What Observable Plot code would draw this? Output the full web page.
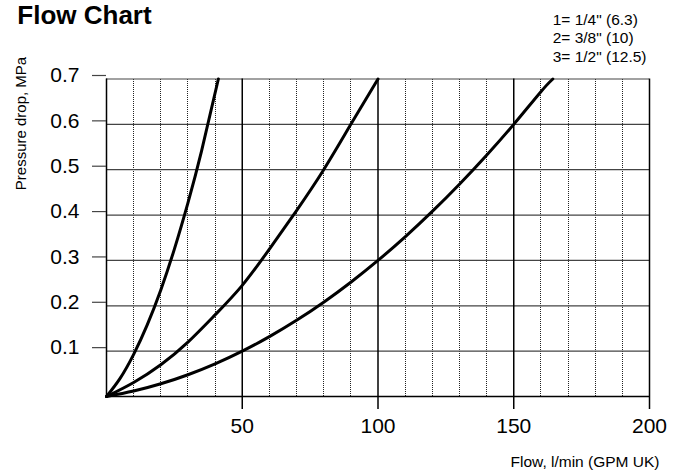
<!DOCTYPE html>
<html>
<head>
<meta charset="utf-8">
<script src="https://cdn.jsdelivr.net/npm/d3@7"></script>
<script src="https://cdn.jsdelivr.net/npm/@observablehq/plot@0.6"></script>
<style>
  html, body { margin: 0; padding: 0; background: #fff; }
  #chart svg { display: block; }
</style>
</head>
<body>
<div id="chart"></div>
<script>
// ---- Data ----
const titleText = "Flow Chart";
const xLabel = "Flow, l/min (GPM UK)";
const yLabel = "Pressure drop, MPa";
const legendLines = ["1= 1/4\" (6.3)", "2= 3/8\" (10)", "3= 1/2\" (12.5)"];

// Curve 1 : 1/4" (6.3)
const flow1 = [0, 5, 10, 15, 20, 25, 30, 35, 41.2];
const pres1 = [0, 0.04, 0.093, 0.158, 0.235, 0.325, 0.427, 0.541, 0.7];
// Curve 2 : 3/8" (10)
const flow2 = [0, 10, 20, 30, 40, 50, 60, 70, 80, 90, 100];
const pres2 = [0, 0.031, 0.07, 0.12, 0.18, 0.245, 0.325, 0.41, 0.5, 0.6, 0.7];
// Curve 3 : 1/2" (12.5)
const flow3 = [0, 10, 20, 30, 40, 50, 60, 70, 80, 90, 100, 110, 120, 130, 140, 150, 160, 164.4];
const pres3 = [0, 0.012, 0.028, 0.048, 0.072, 0.1, 0.132, 0.168, 0.208, 0.252, 0.3, 0.352, 0.408, 0.468, 0.532, 0.6, 0.672, 0.7];

const xTickLabels = [50, 100, 150, 200];
const xMajor = [0, 50, 100, 150, 200];
const xMinor = [10, 20, 30, 40, 60, 70, 80, 90, 110, 120, 130, 140, 160, 170, 180, 190];
const yTicks = [0.1, 0.2, 0.3, 0.4, 0.5, 0.6, 0.7];

// ---- Build table for Plot ----
const curves = [
  ...flow1.map((f, i) => ({flow: f, p: pres1[i], s: "1"})),
  ...flow2.map((f, i) => ({flow: f, p: pres2[i], s: "2"})),
  ...flow3.map((f, i) => ({flow: f, p: pres3[i], s: "3"}))
];

const FONT = "'Liberation Sans', Arial, Helvetica, sans-serif";

const chart = Plot.plot({
  width: 684,
  height: 471,
  marginLeft: 106,
  marginRight: 35,
  marginTop: 78.5,
  marginBottom: 75,
  x: {domain: [0, 200]},
  y: {domain: [0, 0.7]},
  style: {fontFamily: FONT, background: "#fff", color: "#000", overflow: "visible"},
  marks: [
    Plot.gridX(xMinor, {stroke: "#222", strokeOpacity: 1, strokeWidth: 1, strokeDasharray: "1,1", shapeRendering: "crispEdges"}),
    Plot.gridY(yTicks, {stroke: "#444", strokeOpacity: 1, strokeWidth: 1.2}),
    Plot.gridX(xMajor, {stroke: "#000", strokeOpacity: 1, strokeWidth: 1.5}),
    Plot.ruleY([0], {stroke: "#000", strokeWidth: 1.5}),
    Plot.axisX(xTickLabels, {tickSize: 13, tickPadding: 9, fontSize: 21, label: null, strokeWidth: 1.5}),
    Plot.axisY(yTicks, {tickSize: 14, tickPadding: 13, fontSize: 21, label: null, dy: -3.5,
      tickFormat: d3.format(".1f"), stroke: "#444", strokeWidth: 1.2}),
    Plot.line(curves, {x: "flow", y: "p", z: "s", stroke: "#000", strokeWidth: 3, curve: "natural"})
  ]
});

const svg = d3.select(chart);
// Title
svg.append("text")
  .attr("x", 17.3).attr("y", 23.5)
  .attr("text-anchor", "start")
  .attr("font-family", FONT).attr("font-size", 26).attr("font-weight", "bold")
  .attr("fill", "#000")
  .text(titleText);
// Legend text (top right)
legendLines.forEach((t, i) => {
  svg.append("text")
    .attr("x", 552.7).attr("y", 24.5 + i * 18.7)
    .attr("text-anchor", "start")
    .attr("font-family", FONT).attr("font-size", 15.5).attr("fill", "#000")
    .text(t);
});
// X axis label
svg.append("text")
  .attr("x", 659.5).attr("y", 467)
  .attr("text-anchor", "end")
  .attr("font-family", FONT).attr("font-size", 15.5).attr("fill", "#000")
  .text(xLabel);
// Y axis label
svg.append("text")
  .attr("transform", "translate(26,123.5) rotate(-90)")
  .attr("text-anchor", "middle")
  .attr("font-family", FONT).attr("font-size", 15).attr("fill", "#000")
  .text(yLabel);

document.getElementById("chart").appendChild(chart);
</script>
</body>
</html>
